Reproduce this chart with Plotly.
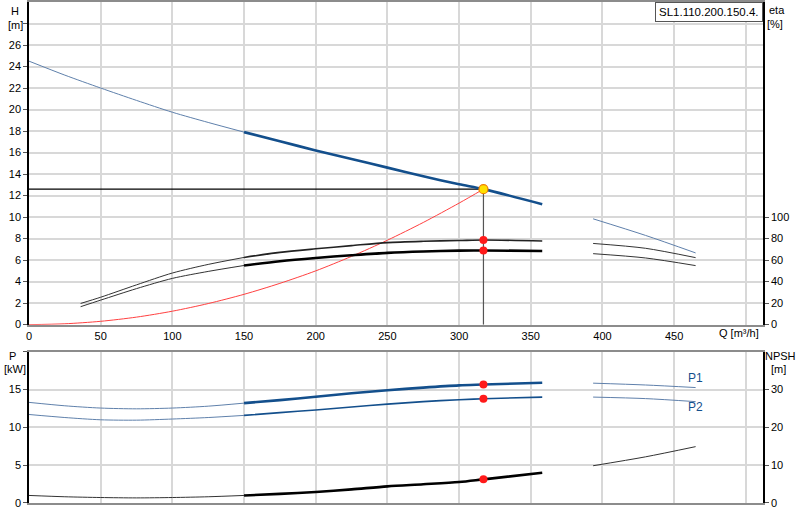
import plotly.graph_objs as go

## Pump curve chart: SL1.110.200.150.4.
## Q flow [m3/h] against head H, efficiency eta, power P1/P2 and NPSH.

q = [0, 25, 50, 75, 100, 125, 150, 175, 200, 225, 250, 275, 300, 317, 358]
head = [24.5, 23.2, 22.0, 20.85, 19.75, 18.8, 17.9, 17.05, 16.2, 15.4, 14.6, 13.8, 13.05, 12.6, 11.2]

q_eta = [36, 50, 75, 100, 125, 150, 175, 200, 225, 250, 275, 300, 317, 358]
eta_upper = [19.7, 25.5, 37, 48, 56, 62.5, 67.2, 70.5, 73.5, 76.3, 77.5, 78.2, 78.7, 77.8]
eta_lower = [16.7, 22.8, 33.5, 43, 49.5, 55, 59, 62, 64.5, 66.7, 68, 68.8, 69, 68.5]

p1 = [13.3, 12.85, 12.55, 12.45, 12.55, 12.8, 13.2, 13.6, 14.05, 14.5, 14.9, 15.25, 15.55, 15.66, 15.9]
p2 = [11.7, 11.3, 11.0, 10.95, 11.1, 11.3, 11.58, 11.95, 12.3, 12.7, 13.07, 13.4, 13.65, 13.78, 14.0]
npsh = [2.0, 1.65, 1.45, 1.35, 1.45, 1.65, 2.0, 2.4, 2.9, 3.6, 4.4, 4.95, 5.55, 6.25, 8.0]

# separate section on the right of the gap
q_ext = [393.5, 430, 465]
head_ext = [9.84, 8.3, 6.67]
eta_upper_ext = [75.5, 71, 62.3]
eta_lower_ext = [66, 62, 54.9]
p1_ext = [15.84, 15.6, 15.26]
p2_ext = [14.0, 13.8, 13.4]
npsh_ext = [9.85, 12.2, 14.9]

# system curve up to the duty point
q_sys = [0, 25, 50, 75, 100, 125, 150, 175, 200, 225, 250, 275, 300, 317]
h_sys = [0, 0.08, 0.31, 0.7, 1.25, 1.96, 2.82, 3.84, 5.0, 6.35, 7.85, 9.5, 11.3, 12.6]

duty_q = 317
duty_h = 12.6
duty_eta = [78.7, 69]
duty_p = [15.66, 13.78]
duty_npsh = 6.25

x_ticks = [0, 50, 100, 150, 200, 250, 300, 350, 400, 450, 500]
x_labels = ['0', '50', '100', '150', '200', '250', '300', '350', '400', '450', '']
h_ticks = list(range(0, 30, 2))
h_labels = [str(v) for v in h_ticks[:-1]] + ['']
eta_ticks = [0, 20, 40, 60, 80, 100]
p_ticks = [0, 5, 10, 15, 20]
p_labels = ['0', '5', '10', '15', '']
npsh_ticks = [0, 10, 20, 30]

BLUE = '#134f8c'
THIN_BLUE = '#5f80ab'
THIN = 1
THICK = 2.6

i150 = q.index(150)
j150 = q_eta.index(150)


def curve(xs, ys, color, width, yaxis, xaxis='x'):
    return go.Scatter(x=xs, y=ys, mode='lines', xaxis=xaxis, yaxis=yaxis,
                      line=dict(color=color, width=width, shape='spline', smoothing=0.8))


def split(xs, ys, i, color, thin_color, width, yaxis, xaxis='x'):
    return [
        curve(xs[:i + 1], ys[:i + 1], thin_color, THIN, yaxis, xaxis),
        curve(xs[i:], ys[i:], color, width, yaxis, xaxis),
    ]


data = []
# duty point lines
data.append(go.Scatter(x=[0, duty_q], y=[duty_h, duty_h], mode='lines', yaxis='y',
                       line=dict(color='black', width=1.2)))
data.append(go.Scatter(x=[duty_q, duty_q], y=[0, duty_h], mode='lines', yaxis='y',
                       line=dict(color='#555555', width=1.2)))
data.append(curve(q_sys, h_sys, '#ff4040', 1, 'y'))

data += split(q, head, i150, BLUE, THIN_BLUE, THICK, 'y')
data.append(curve(q_ext, head_ext, THIN_BLUE, THIN, 'y'))

data += split(q_eta, eta_upper, j150, '#222222', '#333333', 1.6, 'y2')
data += split(q_eta, eta_lower, j150, 'black', '#333333', THICK, 'y2')
data.append(curve(q_ext, eta_upper_ext, '#333333', THIN, 'y2'))
data.append(curve(q_ext, eta_lower_ext, '#333333', THIN, 'y2'))

data.append(go.Scatter(x=[duty_q, duty_q], y=duty_eta, mode='markers', yaxis='y2',
                       marker=dict(color='#ff1a1a', size=8)))
data.append(go.Scatter(x=[duty_q], y=[duty_h], mode='markers', yaxis='y',
                       marker=dict(color='#ffe000', size=9,
                                   line=dict(color='#f08000', width=1.2))))

# bottom plot
data += split(q, p1, i150, BLUE, THIN_BLUE, THICK, 'y3', 'x2')
data += split(q, p2, i150, BLUE, THIN_BLUE, 1.6, 'y3', 'x2')
data += split(q, npsh, i150, 'black', '#333333', THICK, 'y4', 'x2')
data.append(curve(q_ext, p1_ext, THIN_BLUE, THIN, 'y3', 'x2'))
data.append(curve(q_ext, p2_ext, THIN_BLUE, THIN, 'y3', 'x2'))
data.append(curve(q_ext, npsh_ext, '#333333', THIN, 'y4', 'x2'))
data.append(go.Scatter(x=[duty_q, duty_q], y=duty_p, mode='markers', xaxis='x2', yaxis='y3',
                       marker=dict(color='#ff1a1a', size=8)))
data.append(go.Scatter(x=[duty_q], y=[duty_npsh], mode='markers', xaxis='x2', yaxis='y4',
                       marker=dict(color='#ff1a1a', size=8)))

font = dict(family='Liberation Sans, Arial, sans-serif', size=11, color='black')
grid = '#d8d8d8'
top_dom = [0.356, 1]
bot_dom = [0, 0.302]


def px(x):
    return (x - 29) / 734


def py(y):
    return (503 - y) / 503


annotations = [
    dict(text='H', x=px(15), y=py(9)),
    dict(text='[m]', x=px(15), y=py(23)),
    dict(text='eta', x=px(777), y=py(8)),
    dict(text='[%]', x=px(775), y=py(22)),
    dict(text='P', x=px(12), y=py(355)),
    dict(text='[kW]', x=px(15), y=py(368)),
    dict(text='NPSH', x=px(780), y=py(355)),
    dict(text='[m]', x=px(778), y=py(368)),
    dict(text='Q [m³/h]', x=px(739), y=py(332)),
    dict(text='P1', x=px(695), y=py(378), font=dict(color=BLUE, size=12)),
    dict(text='P2', x=px(695), y=py(407), font=dict(color=BLUE, size=12)),
]
for a in annotations:
    a.update(xref='paper', yref='paper', showarrow=False, xanchor='center', yanchor='middle')
annotations.append(dict(text='SL1.110.200.150.4.', xref='paper', yref='paper', x=1, y=1,
                        xanchor='right', yanchor='top', showarrow=False, bgcolor='white',
                        bordercolor='#555555', borderwidth=1, borderpad=3,
                        font=dict(size=11.5)))

layout = go.Layout(
    width=800, height=520,
    margin=dict(l=29, r=37, t=0, b=17),
    paper_bgcolor='white', plot_bgcolor='white',
    font=font, showlegend=False,
    xaxis=dict(range=[0, 512], tickvals=x_ticks, ticktext=x_labels, showgrid=True,
               gridcolor=grid, gridwidth=1.5, zeroline=False, anchor='y',
               showline=True, linecolor='#8c8c8c', linewidth=2, mirror=True, ticks='',
               ticklabelstandoff=0),
    xaxis2=dict(range=[0, 512], tickvals=x_ticks, showticklabels=False, showgrid=True,
                gridcolor=grid, gridwidth=1.5, zeroline=False, anchor='y3', matches='x',
                showline=True, linecolor='#8c8c8c', linewidth=1.5, mirror=True, ticks=''),
    yaxis=dict(domain=top_dom, range=[0, 30], tickvals=h_ticks, ticktext=h_labels,
               showgrid=True, gridcolor=grid, gridwidth=1.5, zeroline=False,
               showline=True, linecolor='black', linewidth=1.5, ticks='outside',
               ticklen=4, tickcolor='#555555', anchor='x'),
    yaxis2=dict(range=[0, 300], tickvals=eta_ticks, overlaying='y', side='right',
                showgrid=False, zeroline=False, showline=True, linecolor='black',
                linewidth=1.5, ticks='outside', ticklen=4, tickcolor='#555555', anchor='x'),
    yaxis3=dict(domain=bot_dom, range=[0, 20], tickvals=p_ticks, ticktext=p_labels,
                showgrid=True, gridcolor=grid, gridwidth=1.5, zeroline=False,
                showline=True, linecolor='black', linewidth=1.5, ticks='outside',
                ticklen=4, tickcolor='#555555', anchor='x2'),
    yaxis4=dict(range=[0, 40], tickvals=npsh_ticks, overlaying='y3', side='right',
                showgrid=False, zeroline=False, showline=True, linecolor='black',
                linewidth=1.5, ticks='outside', ticklen=4, tickcolor='#555555', anchor='x2'),
    annotations=annotations,
)

fig = go.Figure(data=data, layout=layout)
# drop the default page margin so the figure sits in the window corner
fig.write_html('out.html', config={'displayModeBar': False},
               post_script="document.body.style.margin='0';")
